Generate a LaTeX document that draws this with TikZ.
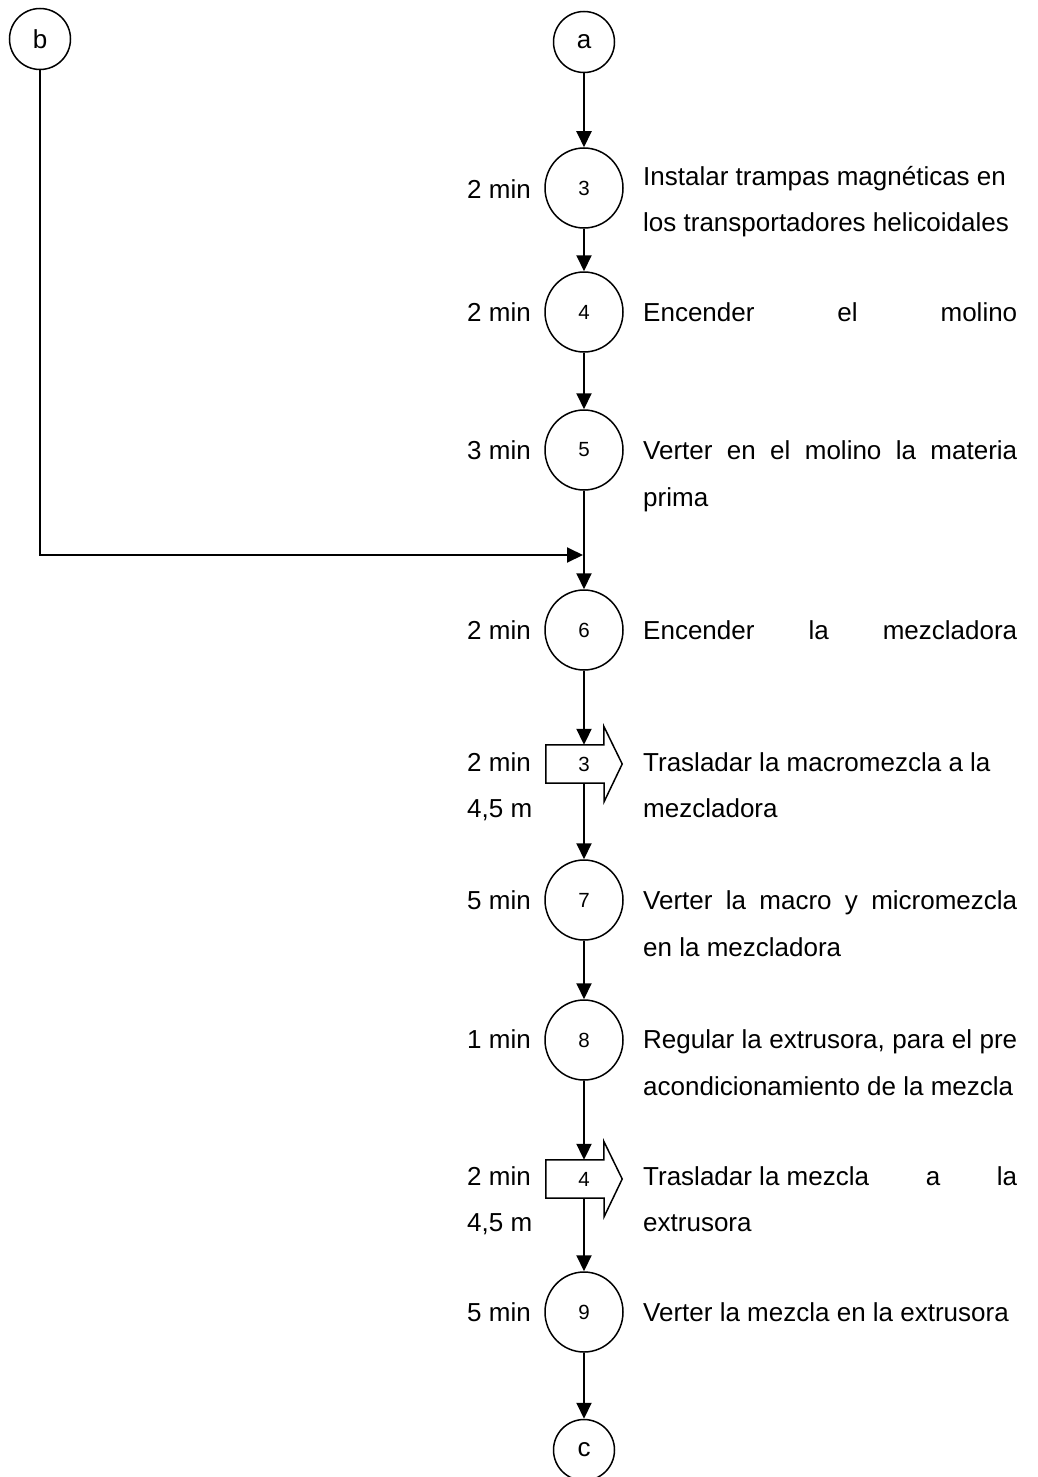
\documentclass[tikz,border=0pt]{standalone}
\usepackage{fontspec}
\setmainfont{Liberation Sans}
\usetikzlibrary{arrows.meta,calc,shapes.geometric}
\newcommand{\bodysize}{\fontsize{26}{47}\selectfont}
\newcommand{\numsize}{\fontsize{20.5}{24}\selectfont}
\newcommand{\jline}[1]{\makebox[374pt][s]{#1}}

\begin{document}
\begin{tikzpicture}[x=1pt,y=-1pt,
  opcircle/.style={ellipse,draw,line width=1.5pt,minimum width=78pt,minimum height=80pt,inner sep=0pt,font=\numsize},
  linkcircle/.style={circle,draw,line width=1.5pt,minimum size=61pt,inner sep=0pt,font=\bodysize},
  transport/.style={rectangle,minimum width=76pt,minimum height=38pt,inner sep=0pt,font=\numsize},
  outline/.style={line width=1.5pt,line join=miter},
  flow/.style={line width=2pt,-{Triangle[length=16pt,width=15pt]}},
  timelabel/.style={anchor=base west,inner sep=0pt,font=\bodysize},
  desc/.style={anchor=base west,inner sep=0pt,font=\bodysize},
]
\useasboundingbox (0,0) rectangle (1037,1477);
\fill[white] (0,0) rectangle (1037,1477);

% connector circles
\node[linkcircle] (b) at (40,39) {b};
\node[linkcircle] (a) at (584,42) {a};
\node[linkcircle] (c) at (584,1450) {c};

% operations
\node[opcircle] (op3) at (584,188) {3};
\node[opcircle] (op4) at (584,312) {4};
\node[opcircle] (op5) at (584,450) {5};
\node[opcircle] (op6) at (584,630) {6};
\node[opcircle] (op7) at (584,900) {7};
\node[opcircle] (op8) at (584,1040) {8};
\node[opcircle] (op9) at (584,1312) {9};

% transports (block arrows)
\node[transport] (tr3) at (584,764) {3};
\node[transport] (tr4) at (584,1179) {4};
\foreach \t in {tr3,tr4}{
  \draw[outline] (\t.north west) -- ++(58pt,0pt) -- ++(0pt,18.5pt) -- (\t.east)
    -- ++(-18pt,-37.5pt) -- ++(0pt,18.5pt) -- (\t.south west) -- cycle;
}

% join point of the branch coming from b
\coordinate (join) at (583,555);

% flow lines
\draw[flow] (a) -- (op3);
\draw[flow] (op3) -- (op4);
\draw[flow] (op4) -- (op5);
\draw[flow] (op5) -- (op6);
\draw[flow] (b) |- (join);
\draw[flow] (op6) -- (tr3.north);
\draw[flow] (tr3.south) -- (op7);
\draw[flow] (op7) -- (op8);
\draw[flow] (op8) -- (tr4.north);
\draw[flow] (tr4.south) -- (op9);
\draw[flow] (op9) -- (c);

% times and distances
\node[timelabel] (t3) at (467,198) {2 min};
\node[timelabel] (t4) at (467,321) {2 min};
\node[timelabel] (t5) at (467,459) {3 min};
\node[timelabel] (t6) at (467,639) {2 min};
\node[timelabel] (tt3) at (467,771) {2 min};
\node[timelabel] (dt3) at (467,817) {4,5 m};
\node[timelabel] (t7) at (467,909) {5 min};
\node[timelabel] (t8) at (467,1048) {1 min};
\node[timelabel] (tt4) at (467,1185) {2 min};
\node[timelabel] (dt4) at (467,1231) {4,5 m};
\node[timelabel] (t9) at (467,1321) {5 min};

% descriptions
\node[desc] (d3a) at (643,185) {Instalar trampas magnéticas en};
\node[desc] (d3b) at (643,231) {los transportadores helicoidales};
\node[desc] (d4) at (643,321) {\jline{Encender el molino}};
\node[desc] (d5a) at (643,459) {\jline{Verter en el molino la materia}};
\node[desc] (d5b) at (643,506) {prima};
\node[desc] (d6) at (643,639) {\jline{Encender la mezcladora}};
\node[desc] (dtr3a) at (643,771) {Trasladar la macromezcla a la};
\node[desc] (dtr3b) at (643,817) {mezcladora};
\node[desc] (d7a) at (643,909) {\jline{Verter la macro y micromezcla}};
\node[desc] (d7b) at (643,956) {en la mezcladora};
\node[desc] (d8a) at (643,1048) {\jline{Regular la extrusora, para el pre}};
\node[desc] (d8b) at (643,1095) {acondicionamiento de la mezcla};
\node[desc] (dtr4a) at (643,1185) {\makebox[374pt][l]{Trasladar la mezcla\hfill a\hfill la}};
\node[desc] (dtr4b) at (643,1231) {extrusora};
\node[desc] (d9) at (643,1321) {Verter la mezcla en la extrusora};
\end{tikzpicture}
\end{document}
